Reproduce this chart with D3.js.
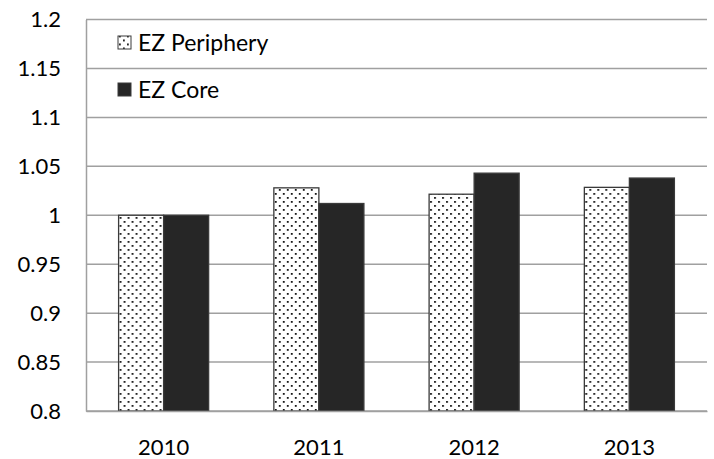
<!DOCTYPE html>
<html>
<head>
<meta charset="utf-8">
<script src="https://cdn.jsdelivr.net/npm/d3@7"></script>
<style>
  body { margin: 0; background: #fff; }
  text { font-family: Lato, "Open Sans", sans-serif; fill: #000; }
</style>
</head>
<body>
<div id="chart"></div>
<script>
const years = ['2010', '2011', '2012', '2013'];
const seriesNames = ['EZ Periphery', 'EZ Core'];
const periphery = [1.0, 1.028, 1.0215, 1.0285];
const core = [1.0, 1.012, 1.043, 1.038];
const yTicks = [0.8, 0.85, 0.9, 0.95, 1, 1.05, 1.1, 1.15, 1.2];

const width = 714;
const height = 459;
const margin = { top: 19.5, right: 7, bottom: 48, left: 86 };

const svg = d3.select('#chart')
  .append('svg')
  .attr('width', width)
  .attr('height', height);

// dotted fill like the excel 10% pattern
const defs = svg.append('defs');
const pat = defs.append('pattern')
  .attr('id', 'dots')
  .attr('patternUnits', 'userSpaceOnUse')
  .attr('width', 8)
  .attr('height', 8);
pat.append('rect').attr('width', 8).attr('height', 8).attr('fill', '#fff');
pat.append('rect').attr('x', 1).attr('y', 1).attr('width', 1.8).attr('height', 1.8).attr('fill', '#111');
pat.append('rect').attr('x', 5).attr('y', 5).attr('width', 1.8).attr('height', 1.8).attr('fill', '#111');

const x0 = d3.scaleBand()
  .domain(years)
  .range([margin.left, width - margin.right])
  .paddingInner(0.42)
  .paddingOuter(0.21);

const x1 = d3.scaleBand()
  .domain(seriesNames)
  .range([0, x0.bandwidth()]);

const y = d3.scaleLinear()
  .domain([0.8, 1.2])
  .range([height - margin.bottom, margin.top]);

const fills = { 'EZ Periphery': 'url(#dots)', 'EZ Core': '#262626' };

// gridlines
svg.append('g')
  .selectAll('line')
  .data(yTicks)
  .join('line')
  .attr('x1', margin.left)
  .attr('x2', width - margin.right)
  .attr('y1', d => y(d))
  .attr('y2', d => y(d))
  .attr('stroke', '#a0a0a0')
  .attr('stroke-width', 1.5);

// y axis
const yAxis = d3.axisLeft(y)
  .tickValues(yTicks)
  .tickFormat(d => String(d))
  .tickSize(0)
  .tickPadding(25);

svg.append('g')
  .attr('transform', `translate(${margin.left},0)`)
  .call(yAxis)
  .call(g => g.select('.domain').attr('stroke', '#a0a0a0').attr('stroke-width', 1.5))
  .call(g => g.selectAll('text').attr('font-size', 22).attr('font-family', 'Lato').attr('fill', '#000'));

// bars
const rows = years.map((yr, i) => ({ year: yr, values: [
  { key: 'EZ Periphery', value: periphery[i] },
  { key: 'EZ Core', value: core[i] },
] }));

svg.append('g')
  .selectAll('g')
  .data(rows)
  .join('g')
  .attr('transform', d => `translate(${x0(d.year)},0)`)
  .selectAll('rect')
  .data(d => d.values)
  .join('rect')
  .attr('x', d => x1(d.key))
  .attr('width', x1.bandwidth())
  .attr('y', d => y(d.value))
  .attr('height', d => y(0.8) - y(d.value))
  .attr('fill', d => fills[d.key])
  .attr('stroke', '#3a3a3a')
  .attr('stroke-width', 1.3);

// x axis
const xAxis = d3.axisBottom(x0).tickSize(0).tickPadding(28);
svg.append('g')
  .attr('transform', `translate(0,${y(0.8)})`)
  .call(xAxis)
  .call(g => g.select('.domain').attr('stroke', '#a0a0a0').attr('stroke-width', 1.5))
  .call(g => g.selectAll('text').attr('font-size', 22).attr('font-family', 'Lato').attr('fill', '#000'));

// legend
const legend = svg.append('g')
  .selectAll('g')
  .data(seriesNames)
  .join('g')
  .attr('transform', (d, i) => `translate(118,${42.5 + i * 47})`);

legend.append('rect')
  .attr('x', 0)
  .attr('y', -6.5)
  .attr('width', 13)
  .attr('height', 13)
  .attr('fill', d => fills[d])
  .attr('stroke', '#3a3a3a')
  .attr('stroke-width', 1);

legend.append('text')
  .attr('x', 20)
  .attr('y', 0)
  .attr('dy', '0.36em')
  .attr('font-size', 23)
  .text(d => d);
</script>
</body>
</html>
